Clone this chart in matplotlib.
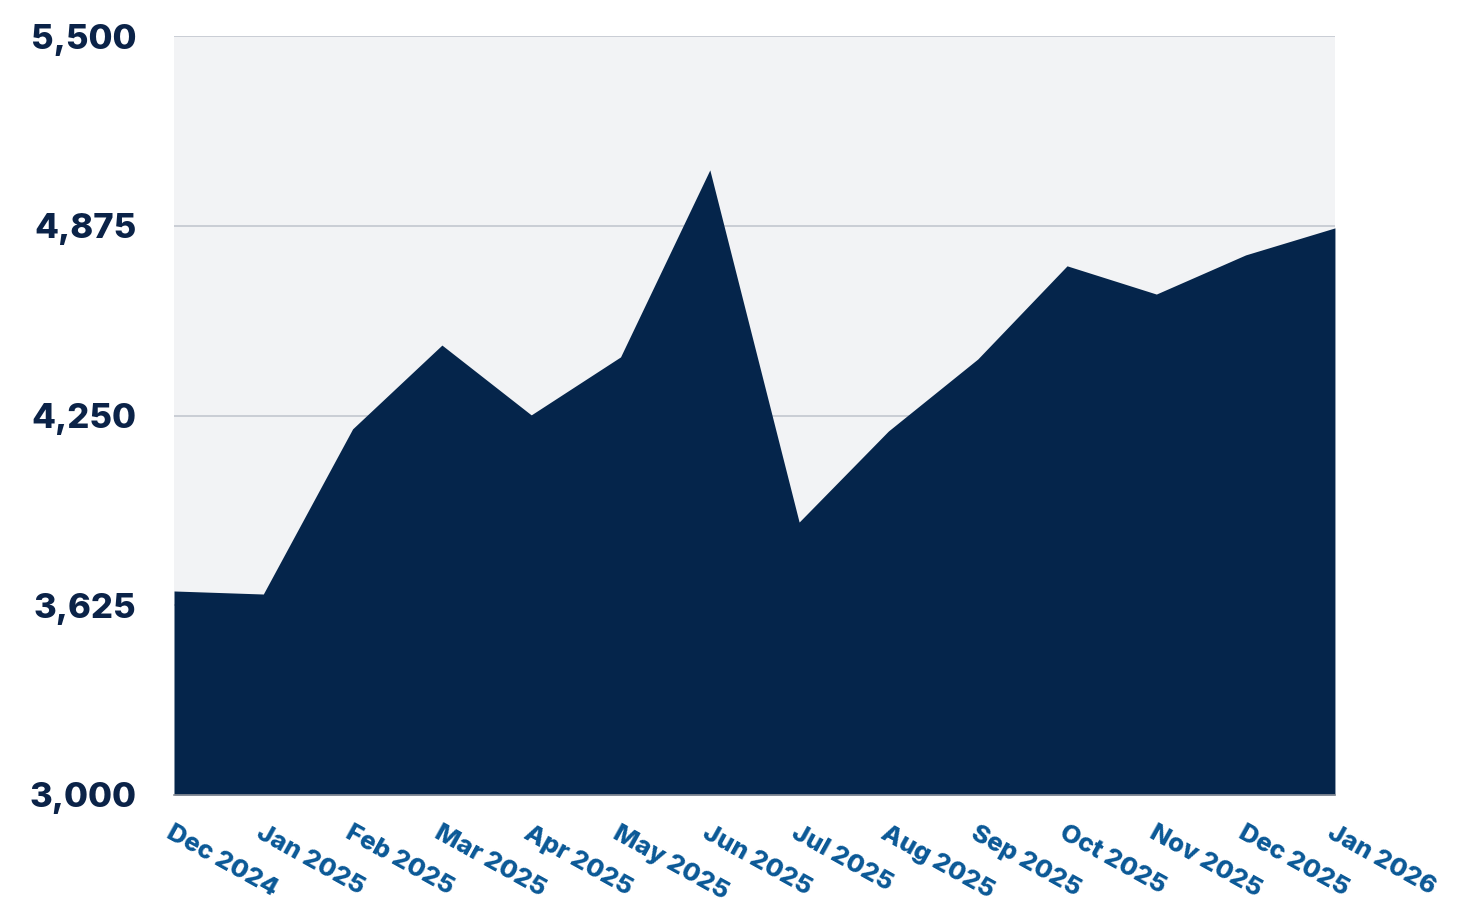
import matplotlib.pyplot as plt

# monthly values
months = ["Dec 2024", "Jan 2025", "Feb 2025", "Mar 2025", "Apr 2025", "May 2025",
          "Jun 2025", "Jul 2025", "Aug 2025", "Sep 2025", "Oct 2025", "Nov 2025",
          "Dec 2025", "Jan 2026"]
values = [3672, 3662, 4206, 4482, 4252, 4443, 5059, 3899, 4199, 4436, 4743, 4650, 4779, 4868]
y_ticks = [3000, 3625, 4250, 4875, 5500]

plt.rcParams['font.family'] = ['Inter', 'DejaVu Sans']

fig = plt.figure(figsize=(14.66, 9.14), dpi=100)
ax = fig.add_axes([0.1187, 0.1302, 0.7919, 0.8304])
ax.set_facecolor('#f2f3f5')

x = list(range(len(months)))
ax.fill_between(x, values, 3000, color='#05254b', lw=0, zorder=2)

ax.set_xlim(0, len(months) - 1)
ax.set_ylim(3000, 5500)
ax.set_yticks(y_ticks)
ax.set_yticklabels([f"{v:,}" for v in y_ticks], fontsize=25, fontweight='heavy', color='#0b2348')
ax.yaxis.grid(True, color='#c3c7cf', lw=1.2, zorder=1)
ax.set_axisbelow(True)

ax.set_xticks(x)
ax.set_xticklabels(months, rotation=-29, ha='left', va='top', rotation_mode='anchor',
                   fontsize=18.5, fontweight='heavy', color='#0a5896')
ax.tick_params(axis='both', length=0)
ax.tick_params(axis='x', pad=19)
ax.tick_params(axis='y', pad=27)

for s in ['top', 'right', 'left']:
    ax.spines[s].set_visible(False)
ax.spines['bottom'].set_color('#8a8f98')
ax.spines['bottom'].set_linewidth(1.2)
ax.spines['bottom'].set_zorder(3)

fig.savefig('out.png', dpi=100)
